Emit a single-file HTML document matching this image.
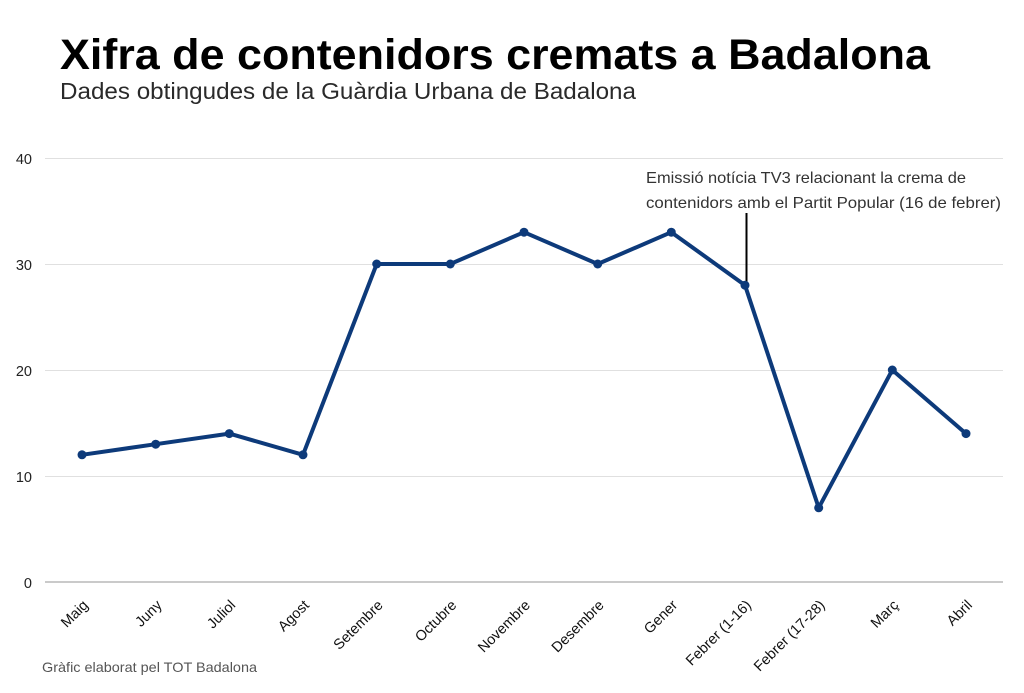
<!DOCTYPE html>
<html><head><meta charset="utf-8"><style>
html,body{margin:0;padding:0;background:#fff;}
svg{display:block;}
text{font-family:"Liberation Sans",sans-serif;}
</style></head><body>
<svg width="1024" height="693" viewBox="0 0 1024 693" xmlns="http://www.w3.org/2000/svg">
<rect width="1024" height="693" fill="#fff"/>
<text x="60" y="69" font-size="43" font-weight="bold" fill="#000" textLength="870" lengthAdjust="spacingAndGlyphs">Xifra de contenidors cremats a Badalona</text>
<text x="60" y="99" font-size="23" fill="#2a2a2a" textLength="576" lengthAdjust="spacingAndGlyphs">Dades obtingudes de la Guàrdia Urbana de Badalona</text>

<g stroke="#e0e0e0" stroke-width="1">
<line x1="45" y1="158.5" x2="1003" y2="158.5"/>
<line x1="45" y1="264.5" x2="1003" y2="264.5"/>
<line x1="45" y1="370.5" x2="1003" y2="370.5"/>
<line x1="45" y1="476.5" x2="1003" y2="476.5"/>
</g>
<line x1="45" y1="582" x2="1003" y2="582" stroke="#aaa" stroke-width="1.2"/>

<g font-size="14.5" fill="#222" text-anchor="end">
<text x="32" y="164">40</text>
<text x="32" y="270">30</text>
<text x="32" y="376">20</text>
<text x="32" y="482">10</text>
<text x="32" y="588">0</text>
</g>

<text x="646" y="183" font-size="16" fill="#333" textLength="320" lengthAdjust="spacingAndGlyphs">Emissió notícia TV3 relacionant la crema de</text>
<text x="646" y="208" font-size="16" fill="#333" textLength="355" lengthAdjust="spacingAndGlyphs">contenidors amb el Partit Popular (16 de febrer)</text>
<line x1="746.5" y1="213" x2="746.5" y2="286" stroke="#000" stroke-width="2"/>

<polyline fill="none" stroke="#0d3a7a" stroke-width="4" stroke-linejoin="round" stroke-linecap="round"
points="82,454.8 155.7,444.2 229.3,433.6 303,454.8 376.7,264 450.3,264 524,232.2 597.7,264 671.3,232.2 745,285.2 818.7,507.8 892.3,370 966,433.6"/>
<g fill="#0d3a7a">
<circle cx="82" cy="454.8" r="4.5"/>
<circle cx="155.7" cy="444.2" r="4.5"/>
<circle cx="229.3" cy="433.6" r="4.5"/>
<circle cx="303" cy="454.8" r="4.5"/>
<circle cx="376.7" cy="264" r="4.5"/>
<circle cx="450.3" cy="264" r="4.5"/>
<circle cx="524" cy="232.2" r="4.5"/>
<circle cx="597.7" cy="264" r="4.5"/>
<circle cx="671.3" cy="232.2" r="4.5"/>
<circle cx="745" cy="285.2" r="4.5"/>
<circle cx="818.7" cy="507.8" r="4.5"/>
<circle cx="892.3" cy="370" r="4.5"/>
<circle cx="966" cy="433.6" r="4.5"/>
</g>

<g font-size="14.5" fill="#111" text-anchor="end">
<text transform="translate(89,606) rotate(-45)">Maig</text>
<text transform="translate(162.7,606) rotate(-45)">Juny</text>
<text transform="translate(236.3,606) rotate(-45)">Juliol</text>
<text transform="translate(310,606) rotate(-45)">Agost</text>
<text transform="translate(383.7,606) rotate(-45)">Setembre</text>
<text transform="translate(457.3,606) rotate(-45)">Octubre</text>
<text transform="translate(531,606) rotate(-45)">Novembre</text>
<text transform="translate(604.7,606) rotate(-45)">Desembre</text>
<text transform="translate(678.3,606) rotate(-45)">Gener</text>
<text transform="translate(752,606) rotate(-45)">Febrer (1-16)</text>
<text transform="translate(825.7,606) rotate(-45)">Febrer (17-28)</text>
<text transform="translate(899.3,606) rotate(-45)">Març</text>
<text transform="translate(973,606) rotate(-45)">Abril</text>
</g>

<text x="42" y="672" font-size="14" fill="#555" textLength="215" lengthAdjust="spacingAndGlyphs">Gràfic elaborat pel TOT Badalona</text>
</svg>
</body></html>
